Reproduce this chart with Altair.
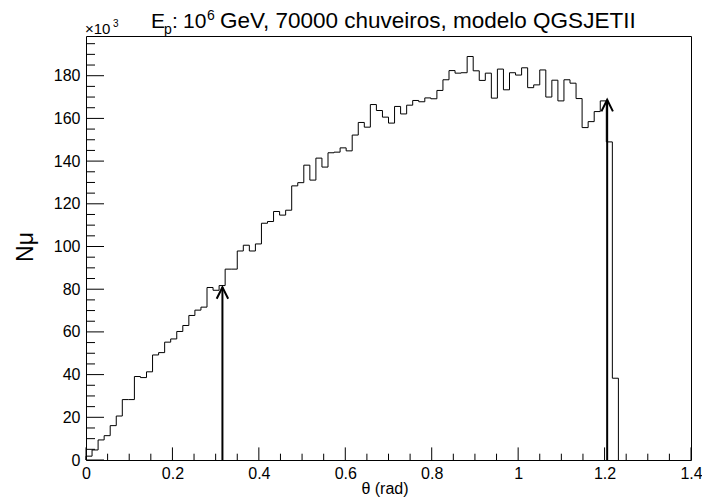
import altair as alt
import pandas as pd

# ---------------- data (values in units of 10^3) ----------------
BIN_WIDTH = 0.014  # 100 bins over 0..1.4 rad
counts = [1.8, 4.7, 9.4, 11.4, 16.1, 20.6, 28.3, 28.3, 39.1, 38.6,
          41.3, 49.2, 50.3, 55.2, 56.7, 60.2, 63.0, 67.7, 70.2, 71.6,
          80.8, 79.5, 81.7, 89.4, 89.4, 97.9, 100.6, 97.9, 101.2, 110.9,
          111.7, 116.4, 114.7, 117.0, 128.4, 129.9, 138.1, 131.1, 141.4, 137.2,
          143.9, 144.2, 146.2, 144.8, 152.2, 158.1, 155.9, 166.5, 163.7, 160.6,
          157.8, 165.6, 162.1, 166.2, 168.4, 167.8, 169.6, 169.2, 173.1, 178.1,
          182.4, 181.2, 181.4, 189.0, 182.3, 177.8, 181.2, 169.5, 183.1, 173.4,
          181.4, 180.3, 183.7, 174.4, 175.7, 182.7, 170.0, 177.9, 168.2, 178.1,
          176.5, 169.3, 155.7, 158.5, 163.2, 168.2, 149.0, 38.3]

arrow_x = [0.3157, 1.206]
arrow_tip = [80.9, 168.7]

x_labels = [0, 0.2, 0.4, 0.6, 0.8, 1.0, 1.2, 1.4]
x_minor = [0.05, 0.1, 0.15, 0.25, 0.3, 0.35, 0.45, 0.5, 0.55, 0.65, 0.7, 0.75,
           0.85, 0.9, 0.95, 1.05, 1.1, 1.15, 1.25, 1.3, 1.35]
y_labels = [0, 20, 40, 60, 80, 100, 120, 140, 160, 180]
y_minor = [5, 10, 15, 25, 30, 35, 45, 50, 55, 65, 70, 75, 85, 90, 95, 105, 110,
           115, 125, 130, 135, 145, 150, 155, 165, 170, 175, 185, 190, 195]

X_MAX = 1.4
Y_MAX = 198.6
W, H = 605, 424
FONT = "Liberation Sans"

xs = alt.Scale(domain=[0, X_MAX], nice=False, zero=False)
ys = alt.Scale(domain=[0, Y_MAX], nice=False, zero=False)
x_axis = alt.Axis(values=x_labels, format="~g", labelFontSize=16, labelFont=FONT,
                  labelColor="black", ticks=False, domain=False, grid=False,
                  labelPadding=5, labelFlush=False, labelOverlap=False, title=None)
y_axis = alt.Axis(values=y_labels, labelFontSize=16, labelFont=FONT,
                  labelColor="black", ticks=False, domain=False, grid=False,
                  labelPadding=6, labelFlush=False, labelOverlap=False, title=None)

# step outline of the histogram
step_x = [0.0] + [round(i * BIN_WIDTH, 4) for i in range(len(counts))] + [round(len(counts) * BIN_WIDTH, 4)]
step_y = [0.0] + counts + [0.0]
hist_df = pd.DataFrame({"theta": step_x, "n": step_y, "i": list(range(len(step_x)))})

hist = alt.Chart(hist_df).mark_line(
    interpolate="step-after", color="black", strokeWidth=1
).encode(
    x=alt.X("theta:Q", scale=xs, axis=x_axis),
    y=alt.Y("n:Q", scale=ys, axis=y_axis),
    order="i:Q",
)

# inward tick marks (ROOT style)
def yticks(vals, length):
    return alt.Chart(pd.DataFrame({"v": vals})).mark_rule(color="black", strokeWidth=1).encode(
        y=alt.Y("v:Q", scale=ys, axis=y_axis),
        x=alt.value(0), x2=alt.value(length))

def xticks(vals, length):
    return alt.Chart(pd.DataFrame({"v": vals})).mark_rule(color="black", strokeWidth=1).encode(
        x=alt.X("v:Q", scale=xs, axis=x_axis),
        y=alt.value(H), y2=alt.value(H - length))

tick_layers = [yticks(y_labels, 18), yticks(y_minor, 9),
               xticks(x_labels, 12.6), xticks(x_minor, 6.3)]

# arrows
arr_df = pd.DataFrame({"x": arrow_x, "tip": arrow_tip, "base": [0, 0]})
shafts = alt.Chart(arr_df).mark_rule(color="black", strokeWidth=2).encode(
    x=alt.X("x:Q", scale=xs, axis=x_axis),
    y=alt.Y("base:Q", scale=ys, axis=y_axis),
    y2="tip:Q")
heads = alt.Chart(arr_df).mark_point(
    shape="M -0.5 1 L 0 0 L 0.5 1", filled=False, size=529, strokeWidth=2,
    color="black", opacity=1
).encode(
    x=alt.X("x:Q", scale=xs, axis=x_axis),
    y=alt.Y("tip:Q", scale=ys, axis=y_axis))

# texts (positions relative to the plot area's top-left corner)
def txt(s, x, y, size, align="left", baseline="alphabetic", angle=0):
    kw = dict(text=s, font=FONT, fontSize=size, color="black", align=align, baseline=baseline)
    if angle:
        kw["angle"] = angle
    return alt.Chart(pd.DataFrame({"a": [0]})).mark_text(**kw).encode(
        x=alt.value(x), y=alt.value(y))

OX, OY = 86, 36
texts = [
    txt("E", 151 - OX, 28 - OY, 21),
    txt("p", 164 - OX, 34 - OY, 14),
    txt(":", 172 - OX, 28 - OY, 21),
    txt("10", 183 - OX, 28 - OY, 21),
    txt("6", 207 - OX, 20 - OY, 14),
    txt("GeV, 70000 chuveiros, modelo QGSJETII", 220 - OX, 28 - OY, 22.5),
    txt("\u00d710", 85 - OX, 34 - OY, 15),
    txt("3", 113 - OX, 27 - OY, 10),
    txt("N\u03bc", 26 - OX, 247 - OY, 23, align="center", baseline="middle", angle=270),
    txt("\u03b8 (rad)", 385 - OX, 489 - OY, 16, align="center", baseline="middle"),
]

chart = alt.layer(hist, *tick_layers, shafts, heads, *texts).properties(
    width=W, height=H,
    autosize="none",
    padding={"left": OX, "top": OY, "right": 702 - OX - W, "bottom": 497 - OY - H},
    background="white",
).configure_view(stroke="black", strokeWidth=1)

chart.save("out.html", embed_options={"renderer": "svg", "actions": False})
